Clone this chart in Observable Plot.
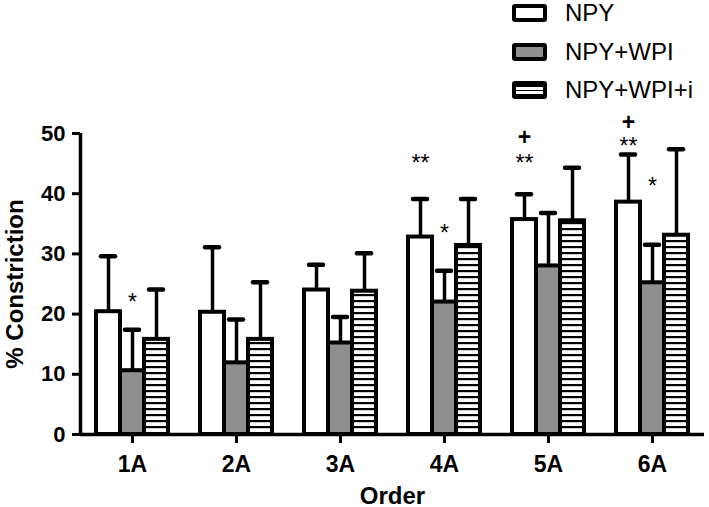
<!DOCTYPE html>
<html><head><meta charset="utf-8">
<script src="https://cdn.jsdelivr.net/npm/d3@7"></script>
<script src="https://cdn.jsdelivr.net/npm/@observablehq/plot@0.6"></script>
<style>
body{margin:0;background:#fff;font-family:"Liberation Sans",Arial,sans-serif;}
#wrap{position:relative;width:709px;height:507px;}
#legend{position:absolute;left:512px;top:0;width:197px;height:110px;}
.row{position:absolute;left:0;height:26px;display:flex;align-items:center;white-space:nowrap;font-size:24px;line-height:26px;color:#000;}
.sw{width:35px;height:18px;box-sizing:border-box;border:4px solid #000;border-radius:3px;margin-right:18px;flex:none;}
</style></head><body>
<div id="wrap"><div id="chart"></div><div id="legend"></div></div>
<script>
const orders = ["1A","2A","3A","4A","5A","6A"];
const seriesNames = ["NPY","NPY+WPI","NPY+WPI+i"];
const seriesFills = ["#ffffff","#8f8f8f","url(#stripes)"];
const npyMean  = [20.4, 20.3, 24.0, 32.8, 35.7, 38.6];
const npyUpper = [29.6, 31.1, 28.2, 39.1, 39.9, 46.5];
const wpiMean  = [10.6, 11.9, 15.2, 22.0, 28.0, 25.2];
const wpiUpper = [17.4, 19.1, 19.5, 27.2, 36.8, 31.5];
const wpiiMean  = [15.8, 15.8, 23.8, 31.4, 35.5, 33.1];
const wpiiUpper = [24.1, 25.3, 30.1, 39.1, 44.3, 47.4];
const annOrder  = ["1A","4A","4A","5A","5A","6A","6A","6A"];
const annSeries = ["NPY+WPI","NPY","NPY+WPI","NPY","NPY","NPY","NPY","NPY+WPI"];
const annLabel  = ["*","**","*","+","**","+","**","*"];
const annY      = [23.1, 46.1, 34.6, 48.9, 46.1, 51.4, 48.9, 42.4];
const yTicks = [0,10,20,30,40,50];

const means = [npyMean, wpiMean, wpiiMean];
const uppers = [npyUpper, wpiUpper, wpiiUpper];
const barW = 24/104, capHalf = 7/104;
const rows = [];
orders.forEach((o,i)=>seriesNames.forEach((s,k)=>{
  const cx = i + 1 + (k-1)*barW;
  rows.push({order:o, series:s, cx, x1:cx-barW/2, x2:cx+barW/2, mean:means[k][i], upper:uppers[k][i]});
}));
const anns = annLabel.map((t,j)=>({label:t, y:annY[j], cx: orders.indexOf(annOrder[j]) + 1 + (seriesNames.indexOf(annSeries[j])-1)*barW}));
const xDomain = [0.5, 6.5];

const svg = Plot.plot({
  width: 709, height: 507,
  marginLeft: 80, marginRight: 5, marginTop: 133, marginBottom: 73,
  style: {fontFamily: "'Liberation Sans', Arial, sans-serif", color: "#000", background: "#fff"},
  x: {type: "linear", domain: xDomain, axis: null},
  y: {domain: [0, 50], axis: null},
  color: {domain: seriesNames, range: seriesFills},
  marks: [
    Plot.ruleX(rows, {x: "cx", y1: "mean", y2: "upper", stroke: "#000", strokeWidth: 3.5}),
    Plot.ruleY(rows, {x1: d => d.cx - capHalf, x2: d => d.cx + capHalf, y: "upper", stroke: "#000", strokeWidth: 4.5, strokeLinecap: "round"}),
    Plot.rectY(rows, {x1: "x1", x2: "x2", y1: 0, y2: "mean", fill: "series", stroke: "#000", strokeWidth: 4}),
    Plot.ruleY([0], {stroke: "#000", strokeWidth: 3.5}),
    Plot.ruleX([xDomain[0]], {y1: 0, y2: 50, stroke: "#000", strokeWidth: 3.5}),
    Plot.axisY({ticks: yTicks, tickSize: 8, tickPadding: 7, strokeWidth: 3, fontSize: 22, fontWeight: "bold", label: null}),
    Plot.axisX({ticks: [1,2,3,4,5,6], tickFormat: d => orders[d-1], tickSize: 9, tickPadding: 12, strokeWidth: 3, fontSize: 23, fontWeight: "bold", label: null}),
    Plot.text(["% Constriction"], {text: d => d, frameAnchor: "left", textAnchor: "middle", dx: -65, rotate: -90, fontSize: 24, fontWeight: "bold"}),
    Plot.text(["Order"], {text: d => d, frameAnchor: "bottom", dy: 69, fontSize: 24, fontWeight: "bold"}),
    Plot.text(anns.filter(a => a.label !== "+"), {x: "cx", y: "y", text: "label", fontSize: 23, dy: 7, fontWeight: "normal"}),
    Plot.text(anns.filter(a => a.label === "+"), {x: "cx", y: "y", text: "label", fontSize: 23, dy: -2, fontWeight: "bold"})
  ]
});
d3.select(svg).insert("defs", ":first-child")
  .append("pattern").attr("id", "stripes").attr("patternUnits", "userSpaceOnUse")
  .attr("width", 8).attr("height", 6)
  .call(p => { p.append("rect").attr("width", 8).attr("height", 6).attr("fill", "#fff");
               p.append("rect").attr("width", 8).attr("height", 2.2).attr("fill", "#000"); });
document.getElementById("chart").appendChild(svg);

const legendTops = [0, 39, 77];
const legendSw = [
  "background:#fff",
  "background:#8f8f8f",
  "background:repeating-linear-gradient(#000 0 1.5px,#fff 1.5px 4.5px)"
];
const lg = document.getElementById("legend");
seriesNames.forEach((s,k)=>{
  const r = document.createElement("div");
  r.className = "row"; r.style.top = legendTops[k] + "px";
  r.innerHTML = `<div class="sw" style="${legendSw[k]}"></div><span>${s}</span>`;
  lg.appendChild(r);
});
</script>
</body></html>
